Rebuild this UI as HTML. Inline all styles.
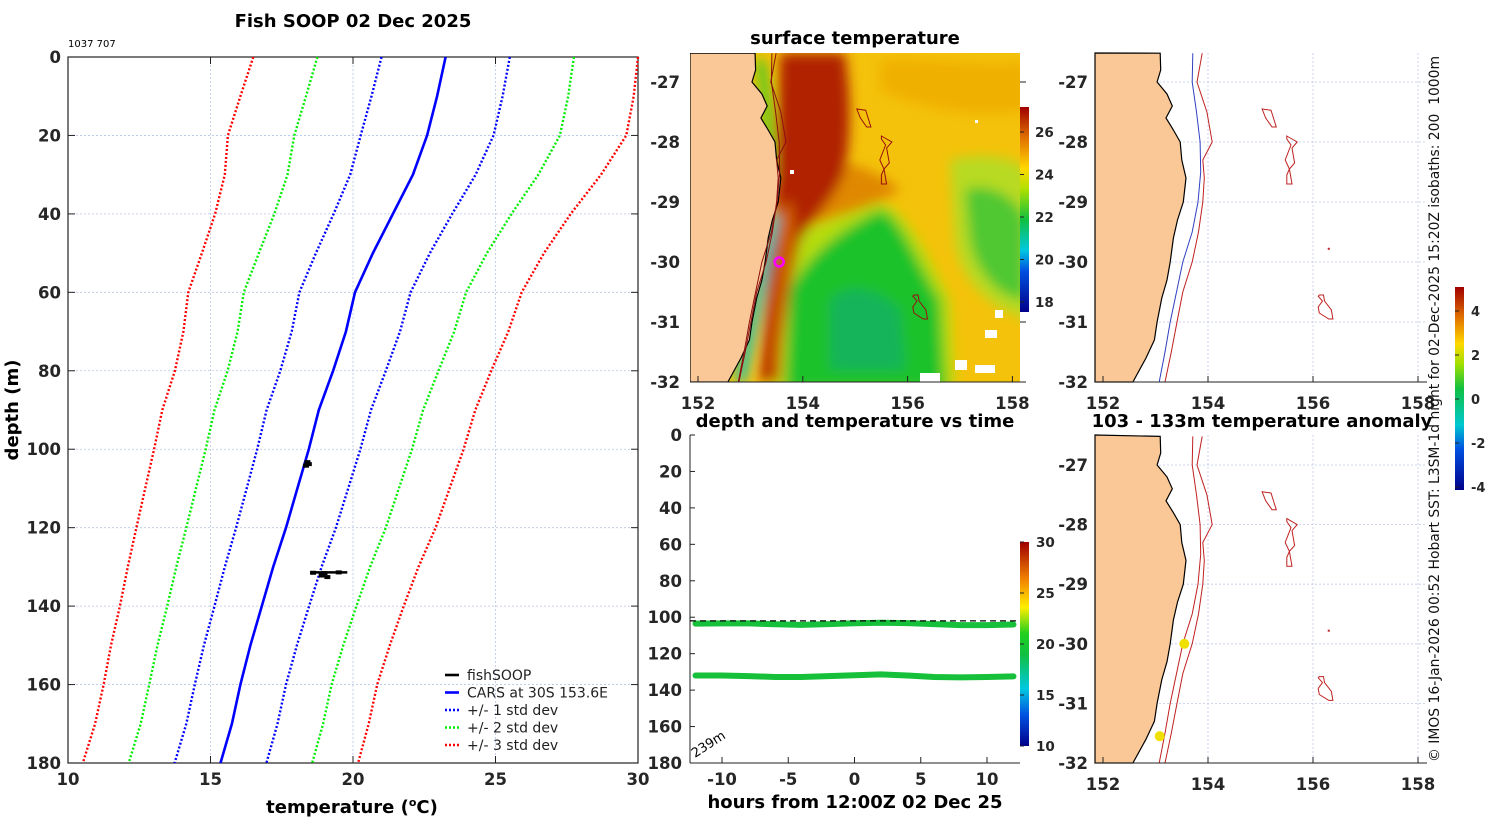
<!DOCTYPE html>
<html><head><meta charset="utf-8">
<style>
html,body{margin:0;padding:0;background:#fff;}
svg{display:block;font-family:"DejaVu Sans","Liberation Sans",sans-serif;}
.tk{font-size:16.5px;font-weight:bold;fill:#262626;}
.ttl{font-size:18px;font-weight:bold;fill:#000;}
</style></head>
<body>
<svg id="fig" width="1500" height="820" viewBox="0 0 1500 820">
<defs>
<filter id="blur6" x="-20%" y="-20%" width="140%" height="140%"><feGaussianBlur stdDeviation="6"/></filter>
<clipPath id="clipSST"><rect x="690" y="53" width="330" height="329"/></clipPath>
<linearGradient id="sstbar" x1="0" y1="1" x2="0" y2="0">
<stop offset="0" stop-color="#00008a"/><stop offset="0.2" stop-color="#0050e0"/><stop offset="0.3" stop-color="#00c8e0"/><stop offset="0.45" stop-color="#10c040"/><stop offset="0.6" stop-color="#b0e000"/><stop offset="0.7" stop-color="#ffd800"/><stop offset="0.85" stop-color="#e07000"/><stop offset="1" stop-color="#a00000"/></linearGradient>
<linearGradient id="tbar" x1="0" y1="1" x2="0" y2="0">
<stop offset="0" stop-color="#00008a"/><stop offset="0.15" stop-color="#0050e0"/><stop offset="0.28" stop-color="#00c8e0"/><stop offset="0.45" stop-color="#10c040"/><stop offset="0.55" stop-color="#20d020"/><stop offset="0.68" stop-color="#ffee00"/><stop offset="0.82" stop-color="#f08000"/><stop offset="1" stop-color="#a00000"/></linearGradient>
<linearGradient id="abar" x1="0" y1="1" x2="0" y2="0">
<stop offset="0" stop-color="#00008a"/><stop offset="0.2" stop-color="#0050e0"/><stop offset="0.32" stop-color="#00c8d0"/><stop offset="0.5" stop-color="#10c040"/><stop offset="0.62" stop-color="#a0e000"/><stop offset="0.72" stop-color="#ffd800"/><stop offset="0.85" stop-color="#e07000"/><stop offset="1" stop-color="#a00000"/></linearGradient>
</defs>
<g id="g"></g>
</svg>
<script>
// ---------- Profile chart data ----------
const depths = [0,10,20,30,40,50,60,70,80,90,100,110,120,130,140,150,160,170,180];
const carsMean = [23.25,22.95,22.6,22.1,21.4,20.7,20.07,19.75,19.3,18.8,18.45,18.05,17.65,17.2,16.8,16.4,16.05,15.75,15.35];
const carsStd = [2.25,2.3,2.33,2.2,2.08,2.0,1.95,1.9,1.85,1.83,1.81,1.78,1.75,1.7,1.66,1.63,1.6,1.6,1.61];
const fishTemps = [18.4,18.45,18.35,19.0,18.9,19.1,18.6,19.5];
const fishDepths = [103.3,103.8,104.2,131.6,132.2,132.6,131.5,131.4];
const profXTicks = [10,15,20,25,30];
const profYTicks = [0,20,40,60,80,100,120,140,160,180];
// ---------- Time series data ----------
const hours = [-12,-10,-8,-6,-4,-2,0,2,4,6,8,10,12];
const sensor1Depth = [103.5,103.4,103.4,103.9,104.2,103.8,103.3,103.0,103.2,103.8,104.3,104.3,104.0];
const sensor2Depth = [132.0,132.0,132.3,132.8,132.8,132.3,131.8,131.4,132.0,132.8,133.0,132.8,132.5];
const timeXTicks = [-10,-5,0,5,10];
const timeYTicks = [0,20,40,60,80,100,120,140,160,180];
const tbarTicks = [10,15,20,25,30];
// ---------- Map data ----------
const coastLat = [-26.52,-26.8,-27,-27.2,-27.4,-27.6,-27.8,-28,-28.3,-28.6,-29,-29.3,-29.6,-30,-30.3,-30.6,-31,-31.3,-31.6,-32];
const coastLon = [153.09,153.1,153.03,153.22,153.32,153.2,153.34,153.47,153.5,153.58,153.53,153.42,153.34,153.28,153.22,153.12,153.03,152.98,152.82,152.57];
const iso1Lat = [-26.52,-27,-27.5,-28,-28.5,-29,-29.5,-30,-30.5,-31,-31.5,-32];
const iso1Lon = [153.71,153.7,153.78,153.85,153.86,153.81,153.7,153.52,153.4,153.28,153.18,153.07];
const iso2Lat = [-26.52,-27,-27.5,-28,-28.3,-28.6,-29,-29.5,-30,-30.5,-31,-31.5,-32];
const iso2Lon = [153.89,153.79,153.98,154.08,153.9,153.93,153.9,153.82,153.7,153.52,153.41,153.3,153.18];
const mapLonTicks = [152,154,156,158];
const mapLatTicks = [-27,-28,-29,-30,-31,-32];
const sstTicks = [18,20,22,24,26];
const anomTicks = [-4,-2,0,2,4];
const fishLon = [153.55];
const fishLat = [-30.0];
const anomDotLon = [153.55,153.08];
const anomDotLat = [-30.0,-31.55];

const NS='http://www.w3.org/2000/svg';
const G=document.getElementById('g');
function el(tag,attrs,parent){const e=document.createElementNS(NS,tag);for(const k in attrs)e.setAttribute(k,attrs[k]);(parent||G).appendChild(e);return e;}
function txt(x,y,s,cls,anchor,parent){const t=el('text',{x:x,y:y,'class':(cls===undefined?'tk':cls),'text-anchor':anchor||'middle'},parent);t.textContent=s;return t;}

// ===== Profile chart =====
const pX=t=>68+(t-10)*(570/20), pY=d=>57+d*(706/180);
const prof=el('g',{});


profXTicks.forEach(t=>{ if(t>10&&t<30){const l=el('line',{x1:pX(t),y1:57,x2:pX(t),y2:763,stroke:'#b8c4e6','stroke-width':0.8,'stroke-dasharray':'2,2'},prof);}});
profYTicks.forEach(d=>{ if(d>0&&d<180){const l=el('line',{x1:68,y1:pY(d),x2:638,y2:pY(d),stroke:'#b8c4e6','stroke-width':0.8,'stroke-dasharray':'2,2'},prof);}});
const box=el('rect',{x:68,y:57,width:570,height:706,fill:'none',stroke:'#222','stroke-width':1.2},prof);

profXTicks.forEach(t=>{el('line',{x1:pX(t),y1:763,x2:pX(t),y2:756,stroke:'#222'},prof);el('line',{x1:pX(t),y1:57,x2:pX(t),y2:64,stroke:'#222'},prof);
 const tl=txt(pX(t),785,String(t),'tk','middle',prof);});
profYTicks.forEach(d=>{el('line',{x1:68,y1:pY(d),x2:75,y2:pY(d),stroke:'#222'},prof);el('line',{x1:638,y1:pY(d),x2:631,y2:pY(d),stroke:'#222'},prof);
 const tl=txt(61,pY(d)+6,String(d),'tk','end',prof);});
function profLine(k,color,dash,w,name){
 const pts=depths.map((d,i)=>pX(carsMean[i]+k*carsStd[i]).toFixed(1)+','+pY(d).toFixed(1)).join(' ');
 const p=el('polyline',{points:pts,fill:'none',stroke:color,'stroke-width':w,'stroke-dasharray':dash||'none'},prof);
 
}
profLine(-3,'#ff0000','2,2',2.4,'minus-3-std-line');profLine(3,'#ff0000','2,2',2.4,'plus-3-std-line');
profLine(-2,'#00ee00','2,2',2.4,'minus-2-std-line');profLine(2,'#00ee00','2,2',2.4,'plus-2-std-line');
profLine(-1,'#0000ff','2,2',2.4,'minus-1-std-line');profLine(1,'#0000ff','2,2',2.4,'plus-1-std-line');
profLine(0,'#0000ff',null,2.6,'cars-mean-line');
fishTemps.forEach((t,i)=>{const c=el('rect',{x:pX(t)-3,y:pY(fishDepths[i])-2,width:6,height:4,fill:'#000'},prof);});
const hb=el('line',{x1:pX(18.5),y1:pY(131.4),x2:pX(19.8),y2:pY(131.4),stroke:'#000','stroke-width':2.5},prof);
const t1=txt(353,27,'Fish SOOP 02 Dec 2025','ttl','middle',prof);
const t2=txt(68,47,'1037 707','','start',prof);t2.setAttribute('style','font-size:10px;fill:#000');
const xt=txt(352,813,'','ttl','middle',prof);
const ts1=el('tspan',{},xt);ts1.textContent='temperature (';const ts2=el('tspan',{dy:-7,style:'font-size:11px'},xt);ts2.textContent='o';const ts3=el('tspan',{dy:7},xt);ts3.textContent='C)';
const yt=txt(0,0,'depth (m)','ttl','middle',prof);yt.setAttribute('transform','translate(18,410) rotate(-90)');
// legend
const leg=el('g',{},prof);
const legItems=[['fishSOOP','#000',null],['CARS at 30S 153.6E','#0000ff',null],['+/- 1 std dev','#0000ff','2,2'],['+/- 2 std dev','#00ee00','2,2'],['+/- 3 std dev','#ff0000','2,2']];
legItems.forEach((it,i)=>{const y=675+i*17.5;const g2=el('g',{},leg);
 el('line',{x1:445,y1:y,x2:459,y2:y,stroke:it[1],'stroke-width':2.6,'stroke-dasharray':it[2]||'none'},g2);
 const t=txt(467,y+5,it[0],'','start',g2);t.setAttribute('style','font-size:14px;fill:#222');});

// ===== SST map =====
const mX=lon=>698+(lon-152)*52.4, mY=lat=>82+(-27-lat)*60;
const sst=el('g',{'clip-path':'url(#clipSST)'});

el('rect',{x:690,y:53,width:330,height:329,fill:'#f4c20a'},sst);
const blobs=el('g',{filter:'url(#blur6)'},sst);
el('path',{d:'M880,60 C930,55 1000,70 1030,60 L1030,110 C980,120 920,110 880,90Z',fill:'#f0b000'},blobs);
el('path',{d:'M950,160 C990,150 1030,160 1030,180 L1030,320 C990,310 960,280 955,240Z',fill:'#b8da20'},blobs);
el('path',{d:'M965,190 C990,180 1020,200 1025,220 L1025,300 C1000,300 975,270 970,240Z',fill:'#50c830'},blobs);
el('path',{d:'M770,260 C790,230 840,215 878,203 C905,205 930,260 950,300 L955,390 L770,390Z',fill:'#b6dc10'},blobs);
el('path',{d:'M790,290 C810,250 850,225 880,210 C900,215 915,260 940,300 L945,390 L785,390Z',fill:'#1ac22a'},blobs);
el('path',{d:'M830,300 C850,280 880,290 900,310 L905,370 L830,370Z',fill:'#14b45a'},blobs);
el('path',{d:'M800,150 C840,160 880,170 900,190 C880,205 840,215 810,225Z',fill:'#e08800'},blobs);
el('path',{d:'M780,53 L845,53 C850,90 852,130 845,170 C835,200 815,215 800,240 C790,280 785,320 778,382 L760,382 C765,320 770,260 775,200Z',fill:'#b02400'},blobs);
el('path',{d:'M790,200 C800,230 790,260 785,300 L780,382 L772,382 C772,320 778,260 780,210Z',fill:'#d06000'},blobs);
el('path',{d:'M760,60 C768,100 770,130 770,180',stroke:'#22cc22','stroke-width':8,fill:'none'},blobs);
el('path',{d:'M775,215 C765,260 755,320 740,382',stroke:'#10c0c0','stroke-width':10,fill:'none'},blobs);
const wp=el('g',{fill:'#fff'},sst);
[[955,360,12,10],[975,365,20,8],[985,330,12,8],[920,373,20,9],[995,310,8,8],[975,120,3,3],[790,170,4,4]].forEach(r=>el('rect',{x:r[0],y:r[1],width:r[2],height:r[3]},wp));
function landPath(xf,yf,yTop,yBot,xL){let d='M'+xL+','+yTop;coastLat.forEach((la,i)=>{d+=' L'+xf(coastLon[i]).toFixed(1)+','+yf(la).toFixed(1);});d+=' L'+xL+','+yBot+'Z';return d;}
const land1=el('path',{d:landPath(mX,mY,53,382,690),fill:'#f9c896',stroke:'#000','stroke-width':1.2},sst);
function linePath(xf,yf,lats,lons){return lats.map((la,i)=>(i?'L':'M')+xf(lons[i]).toFixed(1)+','+yf(la).toFixed(1)).join(' ');}
el('path',{d:linePath(mX,mY,iso1Lat,iso1Lon.map(v=>v-0.3)),fill:'none',stroke:'#8b1010','stroke-width':1},sst);
el('path',{d:linePath(mX,mY,iso2Lat,iso2Lon.map(v=>v-0.4)),fill:'none',stroke:'#8b1010','stroke-width':1},sst);
const loops=[[[155.03,-27.45],[155.2,-27.47],[155.3,-27.75],[155.22,-27.75],[155.1,-27.6]],
[[155.5,-27.9],[155.6,-27.95],[155.7,-28.0],[155.6,-28.1],[155.65,-28.35],[155.55,-28.45],[155.6,-28.7],[155.5,-28.7],[155.5,-28.55],[155.55,-28.45],[155.47,-28.3],[155.58,-28.05],[155.5,-27.95]],
[[156.12,-30.55],[156.2,-30.55],[156.22,-30.65],[156.35,-30.8],[156.38,-30.95],[156.3,-30.95],[156.12,-30.85],[156.1,-30.75],[156.18,-30.65],[156.1,-30.57]]];
function drawLoops(xf,yf,parent,col){loops.forEach(lp=>{const p=el('path',{d:lp.map((p,i)=>(i?'L':'M')+xf(p[0]).toFixed(1)+','+yf(p[1]).toFixed(1)).join(' ')+'Z',fill:'none',stroke:col,'stroke-width':1},parent);});}
drawLoops(mX,mY,sst,'#9a1010');
const fm=el('circle',{cx:mX(fishLon[0]),cy:mY(fishLat[0]),r:4.5,fill:'none',stroke:'#ff00ff','stroke-width':2.5});
el('line',{x1:690,y1:382,x2:1020,y2:382,stroke:'#222'});
mapLonTicks.forEach(l=>{el('line',{x1:mX(l),y1:382,x2:mX(l),y2:376,stroke:'#222'});const t=txt(mX(l),409,String(l));});
mapLatTicks.forEach(l=>{el('line',{x1:1020,y1:mY(l),x2:1026,y2:mY(l),stroke:'#222'});const t=txt(680,mY(l)+6,String(l),'tk','end');});
const st=txt(855,44,'surface temperature','ttl');
const sY=v=>302-(v-18)*(170/8);
const scb=el('rect',{x:1020,y:107,width:9,height:205,fill:'url(#sstbar)'});
sstTicks.forEach(v=>{el('line',{x1:1020,y1:sY(v),x2:1024,y2:sY(v),stroke:'#222'});const t=txt(1035,sY(v)+5,String(v),'tk','start');t.setAttribute('style','font-size:13.5px');});

// ===== Time series =====
const tX=h=>854.5+h*13.25, tY=d=>435+d*(328/180);
const ts=el('g',{});
el('line',{x1:690,y1:435,x2:690,y2:763,stroke:'#222'},ts);el('line',{x1:690,y1:763,x2:1020,y2:763,stroke:'#222'},ts);
timeYTicks.forEach(d=>{el('line',{x1:690,y1:tY(d),x2:695,y2:tY(d),stroke:'#222'},ts);const t=txt(682,tY(d)+6,String(d),'tk','end',ts);});
timeXTicks.forEach(h=>{el('line',{x1:tX(h),y1:763,x2:tX(h),y2:757,stroke:'#222'},ts);const t=txt(tX(h),785,String(h),'tk','middle',ts);});
function tsLine(arr,name){const p=el('polyline',{points:hours.map((h,i)=>tX(h).toFixed(1)+','+tY(arr[i]).toFixed(1)).join(' '),fill:'none',stroke:'#16c03a','stroke-width':6,'stroke-linecap':'round'},ts);}
tsLine(sensor1Depth,'sensor-1-trace');tsLine(sensor2Depth,'sensor-2-trace');
const dl=el('line',{x1:690,y1:tY(102),x2:1020,y2:tY(102),stroke:'#000','stroke-width':1.3,'stroke-dasharray':'6,4'},ts);
const bt=txt(0,0,'239m','','start',ts);bt.setAttribute('transform','translate(695,758) rotate(-33)');bt.setAttribute('style','font-size:13px;fill:#000');
const tt=txt(855,427,'depth and temperature vs time','ttl','middle',ts);
const txt2=txt(855,808,'hours from 12:00Z 02 Dec 25','ttl','middle',ts);
const cY=v=>746-(v-10)*(204/20);
const tcb=el('rect',{x:1020,y:542,width:9,height:204,fill:'url(#tbar)'},ts);
tbarTicks.forEach(v=>{el('line',{x1:1020,y1:cY(v),x2:1024,y2:cY(v),stroke:'#222'},ts);const t=txt(1036,cY(v)+5,String(v),'tk','start',ts);t.setAttribute('style','font-size:13.5px');});

// ===== Right maps =====
function rightMap(yTop,yBot,latTop,scaleY,name,both){
 const rX=lon=>1103+(lon-152)*52.5, rY=lat=>latTop+(-27-lat)*scaleY;
 const g=el('g',{});
 mapLonTicks.forEach(l=>el('line',{x1:rX(l),y1:yTop,x2:rX(l),y2:yBot,stroke:'#c0c8ec','stroke-width':0.8,'stroke-dasharray':'2,2'},g));
 mapLatTicks.forEach(l=>{if(l>-32)el('line',{x1:1095,y1:rY(l),x2:1427,y2:rY(l),stroke:'#c0c8ec','stroke-width':0.8,'stroke-dasharray':'2,2'},g);});
 const ld=el('path',{d:landPath(rX,rY,yTop,yBot,1095),fill:'#f9c896',stroke:'#000','stroke-width':1.2},g);
 const i1=el('path',{d:linePath(rX,rY,iso1Lat,iso1Lon),fill:'none',stroke:both?'#3040c0':'#c02020','stroke-width':1},g);
 const i2=el('path',{d:linePath(rX,rY,iso2Lat,iso2Lon),fill:'none',stroke:'#c02020','stroke-width':1},g);
 drawLoops(rX,rY,g,'#c02020');
 el('rect',{x:rX(156.3)-1,y:rY(-29.78)-1,width:2,height:2,fill:'#c02020'},g);
 el('line',{x1:1095,y1:yBot,x2:1427,y2:yBot,stroke:'#222'},g);
 mapLonTicks.forEach(l=>{el('line',{x1:rX(l),y1:yBot,x2:rX(l),y2:yBot-6,stroke:'#222'},g);const t=txt(rX(l),yBot+27,String(l),'tk','middle',g);});
 mapLatTicks.forEach(l=>{const t=txt(1088,rY(l)+6,String(l),'tk','end',g);});
 return {g,rX,rY};
}
rightMap(53,382,82,60,'isobath-map',true);
const bm=rightMap(435,763,465,59.6,'anomaly-map',false);
anomDotLon.forEach((lo,i)=>{const c=el('circle',{cx:bm.rX(lo),cy:bm.rY(anomDotLat[i]),r:5,fill:'#f0e000'},bm.g);});
const at=txt(1262,427,'103 - 133m temperature anomaly','ttl');
const aY=v=>399-v*22;
const acb=el('rect',{x:1455,y:287,width:9,height:203,fill:'url(#abar)'});
anomTicks.forEach(v=>{el('line',{x1:1455,y1:aY(v),x2:1459,y2:aY(v),stroke:'#222'});const t=txt(1471,aY(v)+5,String(v),'tk','start');t.setAttribute('style','font-size:13px');});
const cr=txt(0,0,'© IMOS 16-Jan-2026 00:52 Hobart SST: L3SM-1d night for 02-Dec-2025 15:20Z isobaths: 200  1000m','','start');
cr.setAttribute('transform','translate(1439,762) rotate(-90)');
cr.setAttribute('style','font-size:14px;fill:#111;white-space:pre');
cr.setAttribute('textLength','706');
cr.setAttribute('lengthAdjust','spacingAndGlyphs');


</script>
</body></html>
